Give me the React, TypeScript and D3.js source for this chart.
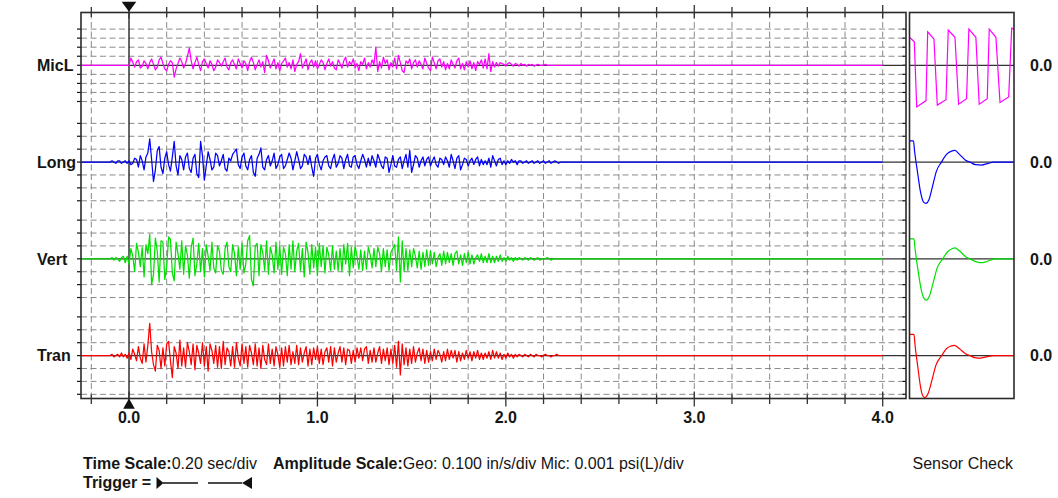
import React from 'react';
import * as d3 from 'd3';

const W = 1058;
const H = 498;

// channels, top to bottom
const channels = ['MicL', 'Long', 'Vert', 'Tran'];
const channelColors = ['#ff00ff', '#0000ff', '#00e000', '#ff0000'];
const channelDivs = [4, 3, 3, 3]; // grid divisions each side of zero
const timeLabels = [0, 1, 2, 3, 4];

// samples start at -0.10 s, one every 0.01 s
const sampleT0 = -0.1;
const sampleDt = 0.01;

// MicL in 0.0001 psi (10 = 1 div)
const micL = [
  0, 0, 0, 0, 0, 0, 0, 0, 0, 0,
  0, 8, 3, -2, 4, 6, -3, -1, 5, 2,
  -4, 3, 7, 1, -5, -2, 6, 9, 2, -4,
  -6, 1, 5, 3, -13, -4, 2, 8, 4, -3,
  2, 10, 19, 5, -4, 3, 9, 1, -6, 4,
  7, 2, -3, 5, 1, -6, -2, 6, 3, -1,
  4, 8, -2, -5, 3, 6, 1, -4, 7, 2,
  -3, 5, 2, -6, 4, 9, 3, -5, 1, 6,
  -2, 4, -8, 11, 5, -3, 2, 7, -4, 3,
  -6, 2, 5, 8, -2, 3, -4, 6, -7, 1,
  4, 13, -3, 2, 7, -5, 3, 6, -2, 5,
  -4, 1, 6, 3, -5, 2, 7, -1, 4, -3,
  -5, 6, 2, -3, 5, 9, -2, 4, 1, 7,
  -3, 2, -6, 4, 1, 8, -4, 3, -2, 6,
  1, 20, -7, 4, -3, 9, 2, 6, -5, 3,
  -2, 8, -4, 11, 3, -6, -8, 5, 2, 7,
  -4, 3, 6, -2, 5, 1, -4, 8, 2, -3,
  -6, 9, 3, -4, 5, 7, -2, 4, -5, 2,
  -4, 6, 1, -3, 5, 8, -4, 2, -5, 4,
  -2, 5, -4, 3, -6, 4, 1, 6, -3, 7,
  -4, 13, -7, 4, -2, 3, -1, 3, 2, 1,
  -1, 2, 3, 1, -1, 2, 1, -1, 2, 0,
  1, -1, 1, 0, 1, -1, 0, 1, 0, 0,
  0, 1, 0, 0, 0, 0, 0, 0, 0, 0,
];

// geophones in 0.01 in/s (10 = 1 div)
const long = [
  0, 1, 0, -1, 1, 1, -1, 0, 1, -1,
  1, -2, -1, 3, 2, -4, 5, 1, -6, 4,
  7, 18, 2, -15, -6, 9, 12, -4, -9, 3,
  8, -2, -7, 4, 16, -3, -10, 5, 2, -6,
  4, 7, -5, -8, 3, 6, -9, -12, 16, 5,
  -14, -3, 8, 2, -6, -4, 7, 5, -3, 1,
  6, -5, -7, 3, 1, 6, 8, 10, -2, -5,
  4, 7, -3, -6, 2, 5, -8, -11, 3, 6,
  11, -4, -6, 2, 5, -3, 1, 7, -5, -2,
  4, 6, -5, -3, 2, 7, 3, -6, 1, 8,
  2, -5, -3, 6, 4, -2, 5, -4, -11, 3,
  6, -2, -6, 1, 4, 5, -3, -5, 2, 6,
  -4, -1, 5, 3, -5, 2, 6, -3, -4, 4,
  5, -2, -5, 1, 6, 2, -4, 3, -3, 5,
  1, -4, 6, 2, -3, -5, 4, 3, -8, -2,
  5, -3, -4, 2, 4, -5, 1, 6, -4, 9,
  -8, -2, 5, 3, -4, 1, 4, -3, 2, 4,
  -3, 1, 4, -2, -4, 3, 2, -2, 4, 1,
  -4, 6, 1, -5, 3, 5, -6, -2, 3, 2,
  -3, 1, 3, -2, 2, 4, -3, 2, -2, 1,
  -2, 3, -4, 5, 1, -3, 2, 3, -2, 1,
  -2, 1, -1, 2, 0, 1, -2, 1, 1, -1,
  0, 1, -1, 0, 1, -1, 0, 1, -1, 0,
  1, -1, 0, 1, -1, 0, 1, 0, -1, 0,
];

const vert = [
  0, 1, -1, 1, 0, -2, 1, 2, -3, 2,
  -4, 8, 2, -10, 12, 5, -6, 9, -14, 11,
  4, 19, -20, -12, 16, 6, -18, 14, 13, -16,
  -6, 17, 15, -11, -17, 13, 4, -8, 14, -12,
  10, 3, -15, 9, 16, -13, -4, 12, -10, 8,
  -14, 11, 2, -9, 13, -7, -11, 10, 6, -9,
  -12, 8, 13, -6, -10, 11, 4, -13, 9, -8,
  12, -11, -4, 14, 18, -16, -21, 10, 12, -13,
  11, 5, -9, 14, -12, 9, 3, -11, 13, -8,
  10, -12, 9, 4, -13, 11, -8, 14, -10, 6,
  12, -9, 8, -14, 13, 5, -12, 11, -7, 9,
  -13, 12, -6, 10, -11, 9, 3, -9, 10, -8,
  6, -9, 8, -10, 11, -4, 12, -13, 9, -7,
  10, 2, -8, 7, -9, 6, -8, 9, 3, -7,
  8, -6, 9, 4, -10, 8, -6, 7, -9, 5,
  8, 11, -9, 17, -18, 14, -10, 8, -9, 7,
  -6, 8, 2, -7, 6, -8, 5, -6, 7, -5,
  6, -4, 5, -6, 1, 4, -5, 6, -4, 5,
  -3, 4, -5, 4, 6, -4, 3, -5, 4, -3,
  5, -4, 3, -4, 1, 3, -2, 4, -3, 2,
  -3, 4, -3, 2, -3, 2, -2, 3, -2, 1,
  -2, 2, -1, 1, -2, 1, -1, 1, 0, -1,
  1, 0, -1, 1, 0, -1, 0, 1, -1, 0,
  0, 0, 1, 0, -1, 0, 0, 0, 0, 0,
];

const tran = [
  0, 1, -1, 0, 1, -1, 2, -1, 1, -2,
  2, -3, 5, 1, -4, 7, -2, -6, 9, -5,
  8, 25, 3, -7, -12, 8, 4, -10, 6, -8,
  9, 11, -4, -17, 7, 2, -10, 12, -8, 6,
  -9, 10, 3, -7, 9, -11, 8, 2, -6, 10,
  -8, 7, -12, 9, 4, -6, 8, -9, 7, -10,
  11, -7, 6, 3, -8, 7, -9, 10, -2, -8,
  9, -6, 7, -9, 8, 2, -7, 9, -8, 6,
  -10, 8, -3, -7, 9, -6, 5, -8, 7, 1,
  -9, 6, -8, 7, -5, 8, -7, 3, -6, 8,
  -7, 6, -5, 2, 7, -8, 5, -7, 6, -3,
  7, -6, 5, -7, 3, 6, -5, 7, -8, 6,
  -5, 2, 7, -5, 6, -7, 5, 4, -6, 4,
  -5, 6, -2, 6, -4, 5, 7, -6, 4, -5,
  6, -5, 2, 7, -6, 5, -4, 6, -7, 5,
  -6, 8, -9, 11, -15, 9, -7, 6, -8, 5,
  -6, 7, -5, 2, 6, -4, 5, -6, 4, -5,
  3, -4, 5, -3, 4, 1, -5, 3, -4, 5,
  -3, 4, -2, 4, -5, 3, -4, 2, -3, 4,
  -2, 3, -4, 3, -2, 4, -3, 2, -3, 2,
  -2, 3, -3, 4, -2, 3, -2, 2, -3, 1,
  -2, 2, -1, 1, -2, 1, -1, 1, 0, -1,
  1, 0, -1, 1, 0, -1, 1, 0, 0, -1,
  0, 1, 0, 0, -1, 0, 0, 1, 0, 0,
];

// sensor check traces: [ms, value] (same units as above)
const sensorMicL = [
  [0, 31], [4.6, 26], [6.9, -46], [15.8, -39], [17.4, 37], [23.4, 29],
  [26.6, -44], [34.9, -38], [37.1, 39], [43.5, 31], [47, -43], [54.6, -37],
  [56.8, 40], [63.5, 31], [66.7, -43], [74.4, -37], [76.3, 40], [82.7, 31],
  [86.6, -41], [94.9, -35], [97.8, 41], [100, 40],
];
const sensorLong = [
  [0, 16.5], [3.8, 16.5], [4.8, 9], [7.7, -8], [10.5, -23], [13.4, -31],
  [15.8, -32], [18.7, -29], [22, -19], [25.8, -7], [30.6, 0], [35.4, 6],
  [40.2, 8.5], [43.5, 9], [47.8, 6], [53.6, 1.5], [57.9, 0], [63.2, -2],
  [68.9, -2.3], [74.6, -1.2], [80.4, 0], [100, 0],
];
const sensorVert = [
  [0, 15.4], [4.3, 15.4], [5.3, 8], [8, -8], [11, -23], [13.8, -30.5],
  [16, -32], [19, -29], [22.5, -19], [26.5, -7], [31.8, 0], [36.5, 5.5],
  [41, 8], [43.5, 8.5], [48, 6], [54, 1.5], [57.9, 0], [64, -2.3],
  [70, -3], [76, -1.5], [81.8, 0], [100, 0],
];
const sensorTran = [
  [0, 16.5], [4.3, 16.5], [5.2, 9], [8, -9], [10.5, -24], [13, -31.5],
  [14.8, -32.5], [18, -29], [21.5, -19], [25.5, -7], [30.8, 0], [35.5, 5.5],
  [40, 7.5], [42.9, 8], [47.5, 5.5], [53.5, 1.5], [57.9, 0], [62.5, -1.6],
  [67.5, -2], [73.5, -1], [80.2, 0], [100, 0],
];

const traces = [micL, long, vert, tran];
const sensors = [sensorMicL, sensorLong, sensorVert, sensorTran];

const FONT = '"Liberation Sans", Arial, sans-serif';
const INK = '#151515';

export default function App() {
  const box = { x0: 81, x1: 906, y0: 12.5, y1: 398.5 };
  const sbox = { x0: 909.5, x1: 1014 };

  const x = d3.scaleLinear().domain([0, 4]).range([129, 882.7]);
  const tMin = x.invert(box.x0);
  const sx = d3.scaleLinear().domain([0, 100]).range([sbox.x0, sbox.x1]);

  const center = d3.scalePoint<string>().domain(channels).range([65.3, 355.6]);
  const yScales = channels.map((c, i) => {
    const cy = center(c) as number;
    const half = i === 0 ? 36.2 : 38.7;
    const lim = channelDivs[i] * 10;
    return d3.scaleLinear().domain([-lim, lim]).range([cy + half, cy - half]);
  });

  const divTimes = d3.range(-1, 21).map((k) => k * 0.2);

  const dash = '6,3.5';
  const gridColor = '#8a8a8a';

  return (
    <svg width={W} height={H} style={{ position: 'absolute', left: 0, top: 0 }} fontFamily={FONT}>
      <rect width={W} height={H} fill="#fff" />

      {/* vertical dashed grid */}
      {divTimes.filter((t) => Math.abs(t) > 1e-6).map((t, i) => (
        <line key={'vg' + i} x1={x(t)} x2={x(t)} y1={box.y0} y2={box.y1}
          stroke={gridColor} strokeDasharray={dash} strokeWidth={1} />
      ))}

      {/* horizontal dashed grid + edge ticks + zero lines */}
      {channels.map((c, i) => {
        const y = yScales[i];
        const lim = channelDivs[i] * 10;
        const ticks = d3.range(-lim, lim + 1, 10);
        return (
          <g key={'hg' + c}>
            {ticks.filter((v) => v !== 0).map((v) => (
              <line key={v} x1={box.x0} x2={box.x1} y1={y(v)} y2={y(v)}
                stroke={gridColor} strokeDasharray={dash} strokeWidth={1} />
            ))}
            {ticks.map((v) => (
              <g key={'t' + v}>
                <line x1={box.x0 - 4} x2={box.x0} y1={y(v)} y2={y(v)} stroke={INK} strokeWidth={1.2} />
                <line x1={box.x1 - 3.5} x2={box.x1} y1={y(v)} y2={y(v)} stroke={INK} strokeWidth={1.2} />
              </g>
            ))}
            <line x1={box.x0} x2={box.x1} y1={y(0)} y2={y(0)} stroke="#333" strokeWidth={1.2} />
            <line x1={sbox.x0} x2={sbox.x1} y1={y(0)} y2={y(0)} stroke="#333" strokeWidth={1.2} />
          </g>
        );
      })}

      {/* trigger line */}
      <line x1={x(0)} x2={x(0)} y1={box.y0} y2={box.y1} stroke="#333" strokeWidth={1.5} />

      {/* traces */}
      {traces.map((vals, i) => {
        const pts: [number, number][] = [[tMin, 0], ...vals.map((v, k) => [sampleT0 + k * sampleDt, v] as [number, number]), [4, 0]];
        const line = d3.line<[number, number]>().x((d) => x(d[0])).y((d) => yScales[i](d[1]));
        return <path key={'tr' + i} d={line(pts) || ''} fill="none" stroke={channelColors[i]} strokeWidth={1.25} strokeLinejoin="round" />;
      })}

      {/* sensor check traces */}
      {sensors.map((pts, i) => {
        const line = d3.line<number[]>().x((d) => sx(d[0])).y((d) => yScales[i](d[1]))
          .curve(i === 0 ? d3.curveLinear : d3.curveMonotoneX);
        return <path key={'sc' + i} d={line(pts) || ''} fill="none" stroke={channelColors[i]} strokeWidth={1.2} />;
      })}

      {/* frames */}
      <rect x={box.x0} y={box.y0} width={box.x1 - box.x0} height={box.y1 - box.y0} fill="none" stroke="#2a2a2a" strokeWidth={1.6} />
      <rect x={sbox.x0} y={box.y0} width={sbox.x1 - sbox.x0} height={box.y1 - box.y0} fill="none" stroke="#2a2a2a" strokeWidth={1.6} />

      {/* time ticks on top and bottom */}
      {divTimes.map((t, i) => {
        const major = Math.abs(t - Math.round(t)) < 1e-6;
        const xx = x(t);
        return (
          <g key={'tk' + i}>
            <line x1={xx} x2={xx} y1={box.y0 - (major ? 7.5 : 5.5)} y2={box.y0 + (major ? 6 : 4.5)} stroke="#333" strokeWidth={1.3} />
            <line x1={xx} x2={xx} y1={box.y1 - (major ? 7 : 4)} y2={box.y1 + (major ? 8 : 5.5)} stroke="#333" strokeWidth={1.3} />
          </g>
        );
      })}

      {/* trigger markers */}
      <path d={`M${x(0) - 7.3},1.7 L${x(0) + 7.3},1.7 L${x(0)},11.8 Z`} fill="#111" />
      <path d={`M${x(0) - 5.8},408.8 L${x(0) + 5.8},408.8 L${x(0)},398.5 Z`} fill="#111" />

      {/* time labels */}
      {timeLabels.map((t) => (
        <text key={'tl' + t} x={x(t)} y={422.5} textAnchor="middle" fontSize={16} fontWeight="bold" fill={INK}>
          {t.toFixed(1)}
        </text>
      ))}

      {/* channel labels */}
      {channels.map((c, i) => (
        <g key={'cl' + c}>
          <text x={37} y={yScales[i](0)} dy="0.36em" fontSize={16} fontWeight="bold" fill={INK}>{c}</text>
          <text x={1030} y={yScales[i](0)} dy="0.36em" fontSize={16} fontWeight="bold" fill={INK}>0.0</text>
        </g>
      ))}

      {/* footer */}
      <text x={83} y={469} fontSize={16} fill={INK}>
        <tspan fontWeight="bold">Time Scale:</tspan>
        <tspan>0.20 sec/div</tspan>
      </text>
      <text x={273} y={469} fontSize={16} fill={INK}>
        <tspan fontWeight="bold">Amplitude Scale:</tspan>
        <tspan>Geo: 0.100 in/s/div Mic: 0.001 psi(L)/div</tspan>
      </text>
      <text x={1013} y={469} textAnchor="end" fontSize={16} fill={INK}>Sensor Check</text>
      <text x={83} y={488} fontSize={16} fontWeight="bold" fill={INK}>Trigger =</text>
      <path d="M156.5,477 L163.5,483 L156.5,489 Z" fill="#111" />
      <line x1={163} x2={198} y1={483} y2={483} stroke="#111" strokeWidth={1.3} />
      <line x1={208} x2={242} y1={483} y2={483} stroke="#111" strokeWidth={1.3} />
      <path d="M252,477 L242,483 L252,489 Z" fill="#111" />
    </svg>
  );
}
